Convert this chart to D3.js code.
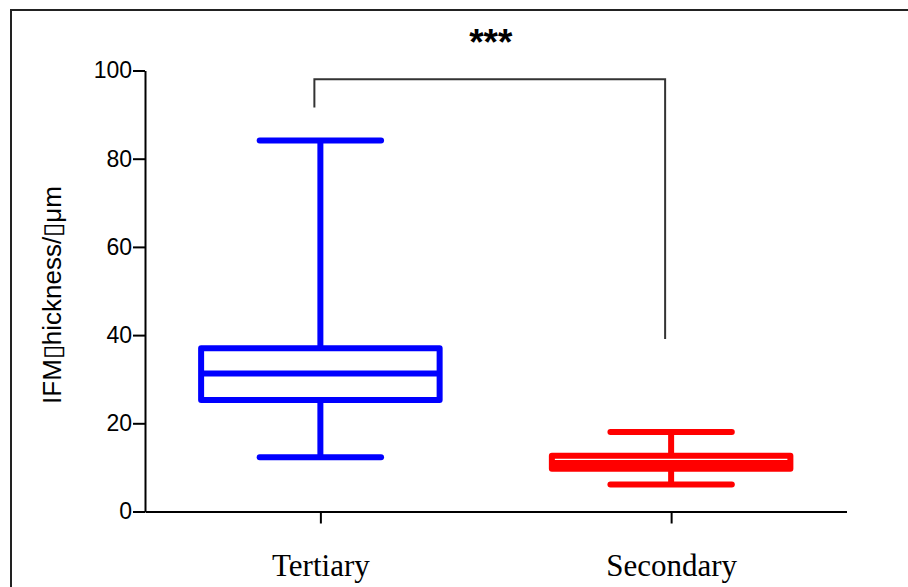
<!DOCTYPE html>
<html>
<head>
<meta charset="utf-8">
<script src="https://cdn.jsdelivr.net/npm/d3@7"></script>
<style>
  html, body { margin: 0; padding: 0; background: #fff; }
  svg { display: block; }
</style>
</head>
<body>
<svg id="chart" width="908" height="587"></svg>
<script>
// Box-and-whisker summary of IFM thickness per group
const categories = ["Tertiary", "Secondary"];
const whiskerMin = [12.3, 6.1];
const quartile1  = [25.3, 9.7];
const medians    = [31.3, 11.0];
const quartile3  = [37.0, 12.65];
const whiskerMax = [84.1, 18.0];
const colors     = ["#0000ff", "#ff0000"];
const yTicks     = [0, 20, 40, 60, 80, 100];
const yLabel     = "IFM\u25AFhickness/\u25AFμm";
const sigLabel   = "***";
const bracketTop = 98;           // bracket height in data units
const bracketFeet = [91.6, 39.1]; // where each leg of the bracket stops

const svg = d3.select("#chart");

// outer frame
svg.append("rect")
  .attr("x", 11).attr("y", 10)
  .attr("width", 1000).attr("height", 1000)
  .attr("fill", "none").attr("stroke", "#222").attr("stroke-width", 2);

const y = d3.scaleLinear().domain([0, 100]).range([511.5, 70.5]);
const x = d3.scalePoint().domain(categories).range([145, 846.5]).padding(0.5);
const step = x.step();

// y axis
const yAxis = svg.append("g")
  .attr("transform", "translate(145,0)")
  .call(d3.axisLeft(y).tickValues(yTicks).tickSize(12).tickSizeOuter(0).tickPadding(1));
yAxis.select(".domain").attr("stroke", "#000").attr("stroke-width", 2);
yAxis.selectAll(".tick line").attr("stroke", "#000").attr("stroke-width", 2);
yAxis.selectAll(".tick text")
  .attr("font-family", "Liberation Sans, Arial, sans-serif")
  .attr("font-size", 23).attr("fill", "#000");

// x axis
const xAxis = svg.append("g")
  .attr("transform", `translate(0,${y(0)})`)
  .call(d3.axisBottom(x).tickSize(12).tickSizeOuter(0).tickPadding(30));
xAxis.select(".domain").attr("stroke", "#000").attr("stroke-width", 2);
xAxis.selectAll(".tick line").attr("stroke", "#000").attr("stroke-width", 2);
xAxis.selectAll(".tick text")
  .attr("font-family", "Liberation Serif, Times New Roman, serif")
  .attr("font-size", 31).attr("fill", "#000");

// y axis title
svg.append("text")
  .attr("transform", `translate(61,${(y(0) + y(100)) / 2 + 4}) rotate(-90)`)
  .attr("text-anchor", "middle")
  .attr("font-family", "Liberation Sans, Arial, sans-serif")
  .attr("font-size", 26)
  .attr("fill", "#000")
  .text(yLabel);

// boxes
const boxHalf = step * 0.34;
const capHalf = step * 0.173;
const g = svg.append("g")
  .attr("stroke-width", 6)
  .attr("stroke-linecap", "round")
  .attr("stroke-linejoin", "round")
  .attr("fill", "none");

categories.forEach((c, i) => {
  const cx = x(c);
  const col = colors[i];
  const bg = g.append("g").attr("stroke", col);
  // whiskers
  bg.append("line").attr("x1", cx).attr("x2", cx)
    .attr("y1", y(quartile3[i])).attr("y2", y(whiskerMax[i])).attr("stroke-linecap", "butt");
  bg.append("line").attr("x1", cx).attr("x2", cx)
    .attr("y1", y(quartile1[i])).attr("y2", y(whiskerMin[i])).attr("stroke-linecap", "butt");
  // caps
  bg.append("line").attr("x1", cx - capHalf).attr("x2", cx + capHalf)
    .attr("y1", y(whiskerMax[i])).attr("y2", y(whiskerMax[i]));
  bg.append("line").attr("x1", cx - capHalf).attr("x2", cx + capHalf)
    .attr("y1", y(whiskerMin[i])).attr("y2", y(whiskerMin[i]));
  // box
  bg.append("rect")
    .attr("x", cx - boxHalf).attr("width", boxHalf * 2)
    .attr("y", y(quartile3[i])).attr("height", y(quartile1[i]) - y(quartile3[i]));
  // median
  bg.append("line").attr("x1", cx - boxHalf).attr("x2", cx + boxHalf)
    .attr("y1", y(medians[i])).attr("y2", y(medians[i])).attr("stroke-linecap", "butt");
});

// significance bracket
const off = 6;
const bx0 = x(categories[0]) - off, bx1 = x(categories[1]) - off;
svg.append("path")
  .attr("d", `M${bx0},${y(bracketFeet[0])} V${y(bracketTop)} H${bx1} V${y(bracketFeet[1])}`)
  .attr("fill", "none").attr("stroke", "#333").attr("stroke-width", 2);

svg.append("text")
  .attr("x", (x(categories[0]) + x(categories[1])) / 2 - 5)
  .attr("y", 55)
  .attr("text-anchor", "middle")
  .attr("font-family", "Liberation Sans, Arial, sans-serif")
  .attr("font-weight", "bold")
  .attr("font-size", 37)
  .attr("fill", "#000")
  .text(sigLabel);
</script>
</body>
</html>
